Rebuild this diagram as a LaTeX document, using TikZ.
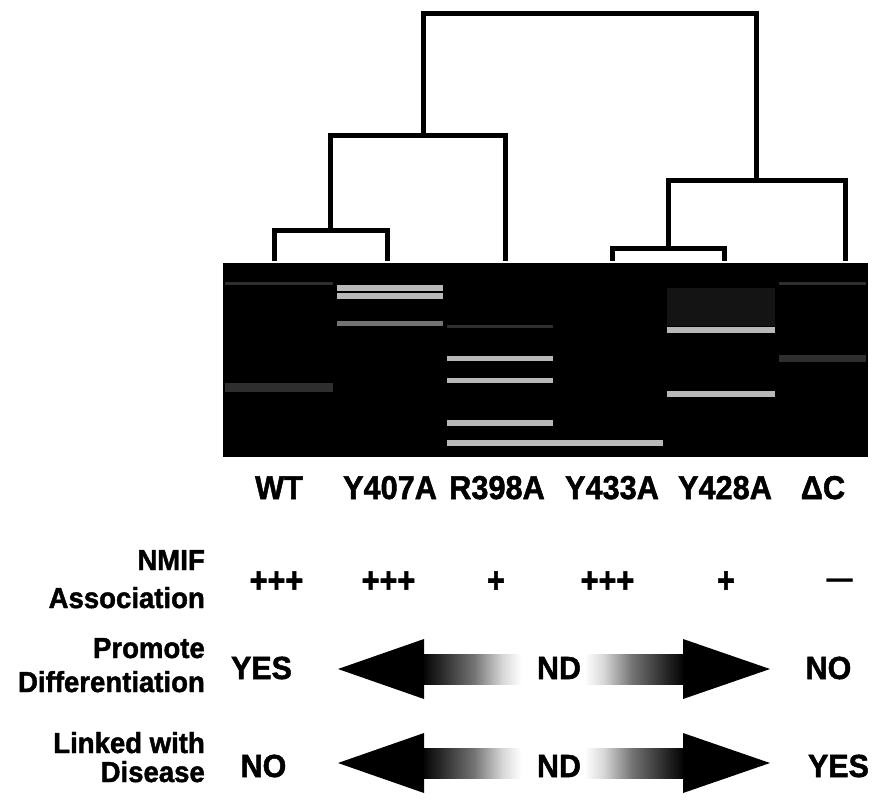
\documentclass[tikz,border=0pt]{standalone}
\usepackage{fontspec}
\setmainfont{Liberation Sans}
\newfontfamily\hvfont{Liberation Sans Bold}[FakeBold=1.6]
\colorlet{shA}{black}
\colorlet{shB}{black!85}
\colorlet{shC}{black!55}
\colorlet{shD}{black!15}
\pgfdeclarehorizontalshading{shaftshade}{100bp}{color(0bp)=(shA); color(25bp)=(shA); color(28.5bp)=(shB); color(35bp)=(shC); color(40.5bp)=(shD); color(44bp)=(white); color(56bp)=(white); color(59.5bp)=(shD); color(65bp)=(shC); color(71.5bp)=(shB); color(75bp)=(shA); color(100bp)=(shA)}
\colorlet{bandhi}{black!28}
\colorlet{bandmid}{black!55}
\colorlet{bandlo}{black!82}
\colorlet{bandvlo}{black!92}
\begin{document}
\begin{tikzpicture}[x=1pt,y=-1pt,
  dend/.style={line width=5pt, line join=miter},
  collab/.style={font=\fontsize{33}{36}\selectfont\hvfont, inner sep=0pt, anchor=base, xscale=0.93},
  rowlab/.style={font=\fontsize{29}{31}\selectfont\hvfont, inner sep=0pt, anchor=base east, xscale=0.95},
  vallab/.style={font=\fontsize{32}{34}\selectfont\hvfont, inner sep=0pt, anchor=base, xscale=0.95},
  pluslab/.style={font=\fontsize{36}{38}\selectfont\hvfont, inner sep=0pt, anchor=base, xscale=0.85}]
\useasboundingbox (0,0) rectangle (881,801);

% ---------- dendrogram ----------
\coordinate (L1) at (274,261);
\coordinate (L2) at (387,261);
\coordinate (L3) at (505,261);
\coordinate (L4) at (612,261);
\coordinate (L5) at (724,261);
\coordinate (L6) at (845,261);
\coordinate (A) at (330,230);
\coordinate (B) at (423,135);
\coordinate (C) at (668,248);
\coordinate (D) at (756,180);
\coordinate (R) at (590,13);
\draw[dend] (L1) |- (A) -| (L2);
\draw[dend] (A) |- (B) -| (L3);
\draw[dend] (L4) |- (C) -| (L5);
\draw[dend] (C) |- (D) -| (L6);
\draw[dend] (B) |- (R) -| (D);

% ---------- heat map ----------
\fill[black] (223,263) rectangle (868,457);
\fill[bandvlo] (667,288) rectangle (775,326);
\fill[bandlo] (225,383) rectangle (333,392);
\fill[bandlo] (225,282) rectangle (333,285);
\fill[bandlo] (779,355) rectangle (866,362);
\fill[bandlo] (779,282) rectangle (866,285);
\fill[bandlo] (447,325) rectangle (553,328);
\fill[bandhi] (337,285) rectangle (443,291);
\fill[bandhi] (337,293) rectangle (443,299);
\fill[bandmid] (337,321) rectangle (443,326);
\fill[bandhi] (447,356) rectangle (553,361);
\fill[bandhi] (447,378) rectangle (553,383);
\fill[bandhi] (447,420) rectangle (553,426);
\fill[bandhi] (447,440) rectangle (663,446);
\fill[bandhi] (667,327) rectangle (775,333);
\fill[bandhi] (667,391) rectangle (775,397);

% ---------- column labels ----------
\node[collab] (wt)  at (279,499) {WT};
\node[collab] (y407) at (390,499) {Y407A};
\node[collab] (r398) at (497,499) {R398A};
\node[collab] (y433) at (612,499) {Y433A};
\node[collab] (y428) at (725,499) {Y428A};
\node[collab] (dc)  at (823,499) {ΔC};

% ---------- row labels ----------
\node[rowlab] (nmif)  at (205,570) {NMIF};
\node[rowlab] (assoc) at (205,608) {Association};
\node[rowlab] (prom)  at (205,658) {Promote};
\node[rowlab] (diff)  at (205,692) {Differentiation};
\node[rowlab] (link)  at (205,753) {Linked with};
\node[rowlab] (dis)   at (205,782) {Disease};

% ---------- NMIF association ----------
\node[pluslab] (p1) at (276.5,592.5) {+++};
\node[pluslab] (p2) at (388.5,592.5) {+++};
\node[pluslab] (p3) at (496,592.5) {+};
\node[pluslab] (p4) at (607.5,592.5) {+++};
\node[pluslab] (p5) at (726,592.5) {+};
\node[font=\fontsize{26}{28}\selectfont\hvfont, inner sep=0pt, anchor=base] (p6) at (839.5,587) {—};

% ---------- arrows ----------
\foreach \c in {669,763}{
  \shade[shading=shaftshade] (421,\c-15) rectangle (685,\c+15);
  \fill[black] (338,\c) -- (424,\c-30) -- (424,\c+30) -- cycle;
  \fill[black] (770,\c) -- (683,\c-30) -- (683,\c+30) -- cycle;
}
\node[vallab] (yes1) at (261.5,679) {YES};
\node[vallab] (nd1)  at (559,679) {ND};
\node[vallab] (no1)  at (828.5,679) {NO};
\node[vallab] (no2)  at (263.5,777) {NO};
\node[vallab] (nd2)  at (559,777) {ND};
\node[vallab] (yes2) at (838.5,777) {YES};
\end{tikzpicture}
\end{document}
